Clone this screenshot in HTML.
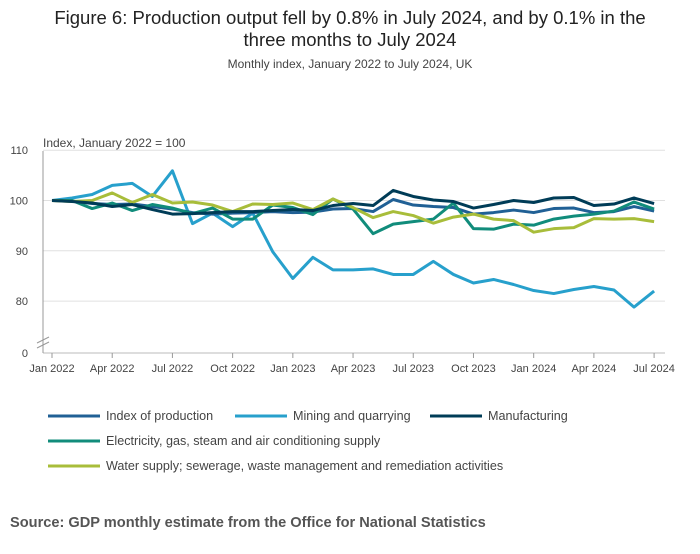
<!DOCTYPE html>
<html><head><meta charset="utf-8"><style>
body{margin:0;background:#fff;font-family:"Liberation Sans",sans-serif;}
svg text{font-family:"Liberation Sans",sans-serif;}
</style></head><body>
<svg id="chart" width="700" height="549">
<text x="350" y="24" text-anchor="middle" font-size="18.5" fill="#222">Figure 6: Production output fell by 0.8% in July 2024, and by 0.1% in the</text>
<text x="350" y="46" text-anchor="middle" font-size="18.5" fill="#222">three months to July 2024</text>
<text x="350" y="68" text-anchor="middle" font-size="12" fill="#444">Monthly index, January 2022 to July 2024, UK</text>
<text x="43" y="147" font-size="12" fill="#444">Index, January 2022 = 100</text>
<g id="grid"></g><g id="lines"></g><g id="legend"></g>
<text x="10" y="527" font-size="14.6" font-weight="bold" fill="#555">Source: GDP monthly estimate from the Office for National Statistics</text>
</svg>
<script>
const yTicks=[110,100,90,80];
const xTickIdx=[0,3,6,9,12,15,18,21,24,27,30];
const xTickLabels=["Jan 2022","Apr 2022","Jul 2022","Oct 2022","Jan 2023","Apr 2023","Jul 2023","Oct 2023","Jan 2024","Apr 2024","Jul 2024"];
const seriesNames=["Index of production","Mining and quarrying","Manufacturing","Electricity, gas, steam and air conditioning supply","Water supply; sewerage, waste management and remediation activities"];
const iop=[100,99.9,99.4,99.2,99.3,98.8,98.3,97.6,97.3,97.5,97.6,97.8,97.6,97.7,98.3,98.4,97.8,100.2,99.1,98.8,98.6,97.3,97.6,98.1,97.6,98.4,98.5,97.6,97.8,98.8,97.9];
const mining=[100,100.5,101.2,103,103.4,100.8,105.9,95.4,97.5,94.8,97.5,89.8,84.5,88.7,86.2,86.2,86.4,85.3,85.3,87.9,85.3,83.6,84.3,83.3,82.1,81.5,82.3,82.9,82.2,78.8,82.0];
const manuf=[100,99.8,99.5,98.8,99.2,98.2,97.3,97.4,97.6,97.8,97.8,98.0,98.2,98.0,99.0,99.4,99.0,102.0,100.8,100.1,99.8,98.5,99.2,100.0,99.6,100.5,100.6,99.0,99.3,100.5,99.4];
const elec=[100,100,98.4,99.5,98.0,99.2,98.5,97.4,98.5,96.3,96.3,99.1,98.6,97.2,100.3,98.3,93.4,95.3,95.8,96.3,99.5,94.4,94.3,95.3,95.1,96.3,96.9,97.3,97.9,99.7,98.3];
const water=[100,99.8,100,101.5,99.6,101.2,99.5,99.7,99.1,97.8,99.3,99.2,99.5,98.2,100.3,98.6,96.6,97.8,97.0,95.5,96.7,97.3,96.3,96.0,93.7,94.4,94.6,96.4,96.3,96.4,95.8];
const colors=["#206095","#27a0cc","#003c57","#118c7b","#a8bd3a"];
const NS="http://www.w3.org/2000/svg";
const X=i=>52+i*20.07;
const Y=v=>200.5-(v-100)*5.03;
const g=document.getElementById('grid'),L=document.getElementById('lines'),lg=document.getElementById('legend');
function mk(t,a,p){const e=document.createElementNS(NS,t);for(const k in a)e.setAttribute(k,a[k]);p.appendChild(e);return e;}
yTicks.forEach(v=>{const l=mk('line',{x1:43,x2:665,y1:Y(v),y2:Y(v),stroke:'#e0e0e0'},g);


const t=mk('text',{x:28,y:Y(v)+4,'font-size':11,fill:'#444','text-anchor':'end'},g);t.textContent=v;

});
const z=mk('text',{x:28,y:357,'font-size':11,fill:'#444','text-anchor':'end'},g);z.textContent='0';


mk('line',{x1:43,x2:665,y1:353,y2:353,stroke:'#bbb'},g);
mk('line',{x1:43,x2:43,y1:151,y2:353,stroke:'#999'},g);
mk('path',{d:'M37 343 L49 337 M37 348 L49 342',stroke:'#999',fill:'none'},g);
xTickIdx.forEach((i,k)=>{mk('line',{x1:X(i),x2:X(i),y1:353,y2:358,stroke:'#999'},g);
const t=mk('text',{x:X(i),y:372,'font-size':11,fill:'#444','text-anchor':'middle'},g);t.textContent=xTickLabels[k];

});
const data=[iop,mining,manuf,elec,water];
const order=[1,0,3,4,2];
order.forEach(s=>{const p=mk('polyline',{points:data[s].map((v,i)=>X(i)+','+Y(v)).join(' '),fill:'none',stroke:colors[s],'stroke-width':3,'stroke-linejoin':'round'},L);

});
const lpos=[[48,416],[235,416],[430,416],[48,441],[48,466]];
seriesNames.forEach((n,s)=>{const [x,y]=lpos[s];
const ln=mk('line',{x1:x,x2:x+52,y1:y,y2:y,stroke:colors[s],'stroke-width':3},lg);


const t=mk('text',{x:x+58,y:y+4,'font-size':12.6,fill:'#444'},lg);t.textContent=n;

});
</script>
</body></html>
